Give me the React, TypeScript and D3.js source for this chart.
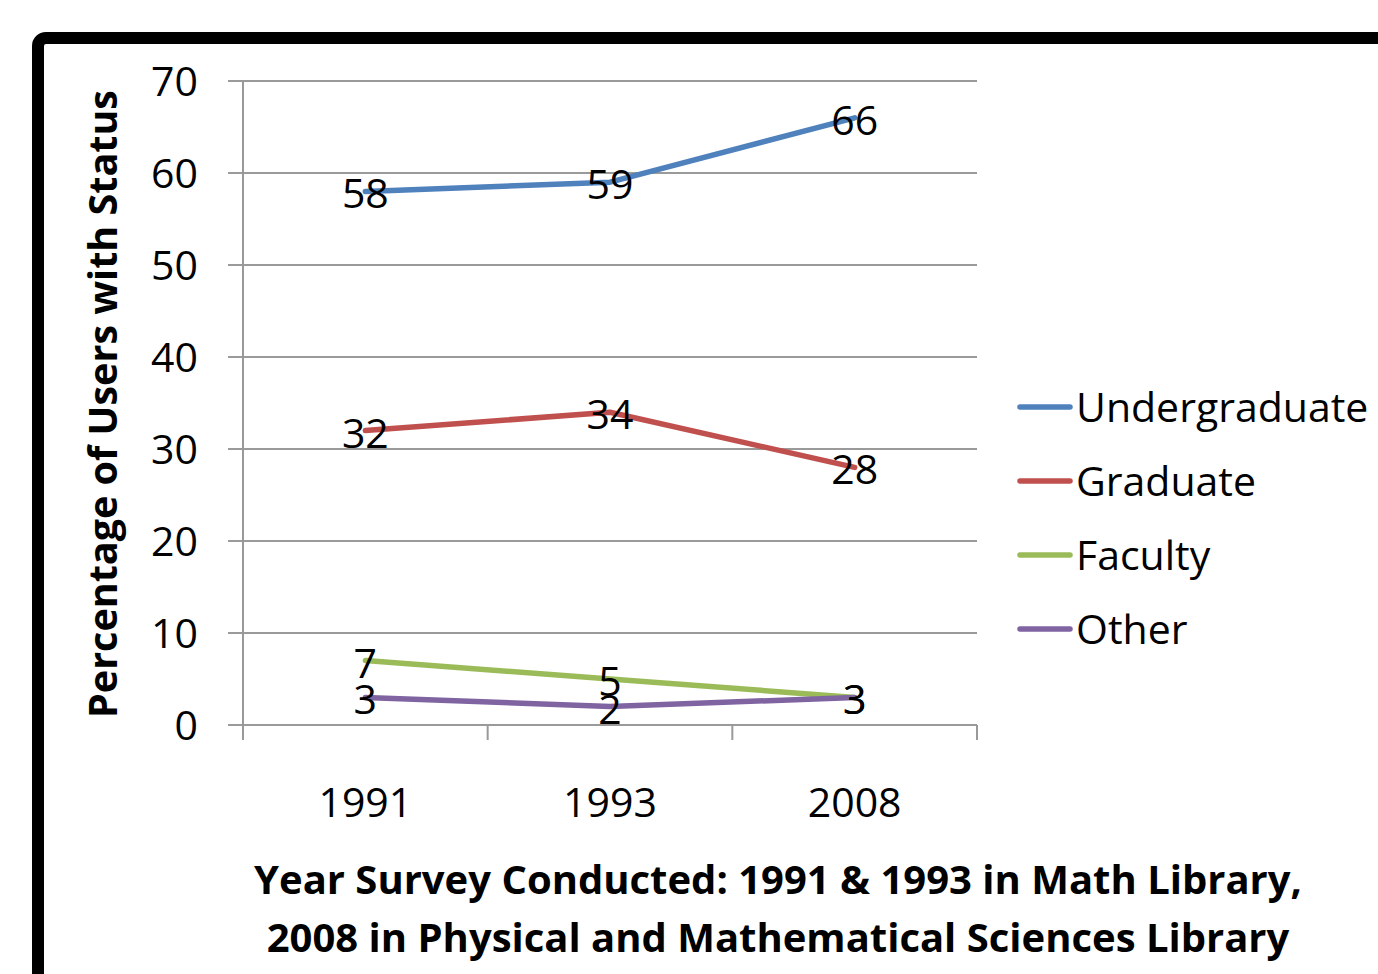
import * as React from "react"
import * as d3 from "d3"

const years = ["1991", "1993", "2008"]
const seriesNames = ["Undergraduate", "Graduate", "Faculty", "Other"]
const undergraduate = [58, 59, 66]
const graduate = [32, 34, 28]
const faculty = [7, 5, 3]
const other = [3, 2, 3]
const yTicks = [0, 10, 20, 30, 40, 50, 60, 70]
const colors = ["#4F81BD", "#C0504D", "#9BBB59", "#8064A2"]

const FONT = "'Open Sans', 'Noto Sans', sans-serif"

function render(svgEl: SVGSVGElement) {
  const width = 1378
  const height = 974
  const svg = d3.select(svgEl).attr("width", width).attr("height", height)
  svg.selectAll("*").remove()

  svg.append("rect").attr("width", width).attr("height", height).attr("fill", "#fff")

  // frame
  svg
    .append("rect")
    .attr("x", 38)
    .attr("y", 38)
    .attr("width", 1400)
    .attr("height", 1000)
    .attr("rx", 8)
    .attr("fill", "none")
    .attr("stroke", "#000")
    .attr("stroke-width", 12)

  const left = 243
  const right = 977
  const top = 81
  const bottom = 725

  const x = d3.scaleBand().domain(years).range([left, right])
  const y = d3.scaleLinear().domain([0, 70]).range([bottom, top])

  const g = svg.append("g")

  // gridlines
  g.selectAll(".grid")
    .data(yTicks)
    .join("line")
    .attr("x1", left - 15)
    .attr("x2", right)
    .attr("y1", (d) => y(d))
    .attr("y2", (d) => y(d))
    .attr("stroke", "#9a9a9a")
    .attr("stroke-width", 2)

  // y axis line
  g.append("line")
    .attr("x1", left)
    .attr("x2", left)
    .attr("y1", top)
    .attr("y2", bottom + 15)
    .attr("stroke", "#999")
    .attr("stroke-width", 2)

  // x ticks at band boundaries
  const boundaries = years.map((yr) => x(yr) as number).concat([right])
  g.selectAll(".xtick")
    .data(boundaries.slice(1))
    .join("line")
    .attr("x1", (d) => d)
    .attr("x2", (d) => d)
    .attr("y1", bottom)
    .attr("y2", bottom + 15)
    .attr("stroke", "#999")
    .attr("stroke-width", 2)

  // y tick labels
  g.selectAll(".ylab")
    .data(yTicks)
    .join("text")
    .attr("x", 198)
    .attr("y", (d) => y(d) + 15)
    .attr("text-anchor", "end")
    .attr("font-family", FONT)
    .attr("font-size", 41)
    .attr("fill", "#000")
    .text((d) => d)

  // x category labels
  g.selectAll(".xlab")
    .data(years)
    .join("text")
    .attr("x", (d) => (x(d) as number) + x.bandwidth() / 2)
    .attr("y", 817)
    .attr("text-anchor", "middle")
    .attr("font-family", FONT)
    .attr("font-size", 41)
    .attr("fill", "#000")
    .text((d) => d)

  const allSeries = [undergraduate, graduate, faculty, other]
  const line = d3
    .line<number>()
    .x((_d, i) => (x(years[i]) as number) + x.bandwidth() / 2)
    .y((d) => y(d))

  allSeries.forEach((vals, si) => {
    g.append("path")
      .datum(vals)
      .attr("d", line)
      .attr("fill", "none")
      .attr("stroke", colors[si])
      .attr("stroke-width", 5.5)
      .attr("stroke-linecap", "round")
      .attr("stroke-linejoin", "round")
  })

  allSeries.forEach((vals) => {
    g.selectAll(null)
      .data(vals)
      .join("text")
      .attr("x", (_d, i) => (x(years[i]) as number) + x.bandwidth() / 2)
      .attr("y", (d) => y(d) + 17)
      .attr("text-anchor", "middle")
      .attr("font-family", FONT)
      .attr("font-size", 41)
      .attr("fill", "#000")
      .text((d) => d)
  })

  // legend
  const legend = svg.append("g")
  seriesNames.forEach((name, i) => {
    const ly = 407 + i * 74
    legend
      .append("line")
      .attr("x1", 1020)
      .attr("x2", 1070)
      .attr("y1", ly)
      .attr("y2", ly)
      .attr("stroke", colors[i])
      .attr("stroke-width", 5.5)
      .attr("stroke-linecap", "round")
    legend
      .append("text")
      .attr("x", 1076)
      .attr("y", ly + 15)
      .attr("font-family", FONT)
      .attr("font-size", 41)
      .attr("fill", "#000")
      .text(name)
  })

  // y axis title
  svg
    .append("text")
    .attr("transform", "translate(117, 404) rotate(-90)")
    .attr("text-anchor", "middle")
    .attr("font-family", FONT)
    .attr("font-weight", "bold")
    .attr("font-size", 39.5)
    .attr("fill", "#000")
    .text("Percentage of Users with Status")

  // x axis title
  const xt = svg
    .append("text")
    .attr("text-anchor", "middle")
    .attr("font-family", FONT)
    .attr("font-weight", "bold")
    .attr("font-size", 40)
    .attr("fill", "#000")
  xt.append("tspan")
    .attr("x", 778)
    .attr("y", 894)
    .text("Year Survey Conducted: 1991 & 1993 in Math Library,")
  xt.append("tspan")
    .attr("x", 778)
    .attr("y", 952)
    .text("2008 in Physical and Mathematical Sciences Library")
}

export default function App(): React.JSX.Element {
  const svgRef = React.useRef<SVGSVGElement>(null)

  React.useEffect(() => {
    if (svgRef.current) render(svgRef.current)
  }, [])

  return (
    <div style={{ position: "absolute", left: 0, top: 0, overflow: "hidden" }}>
      <svg ref={svgRef} style={{ display: "block" }} />
    </div>
  )
}
